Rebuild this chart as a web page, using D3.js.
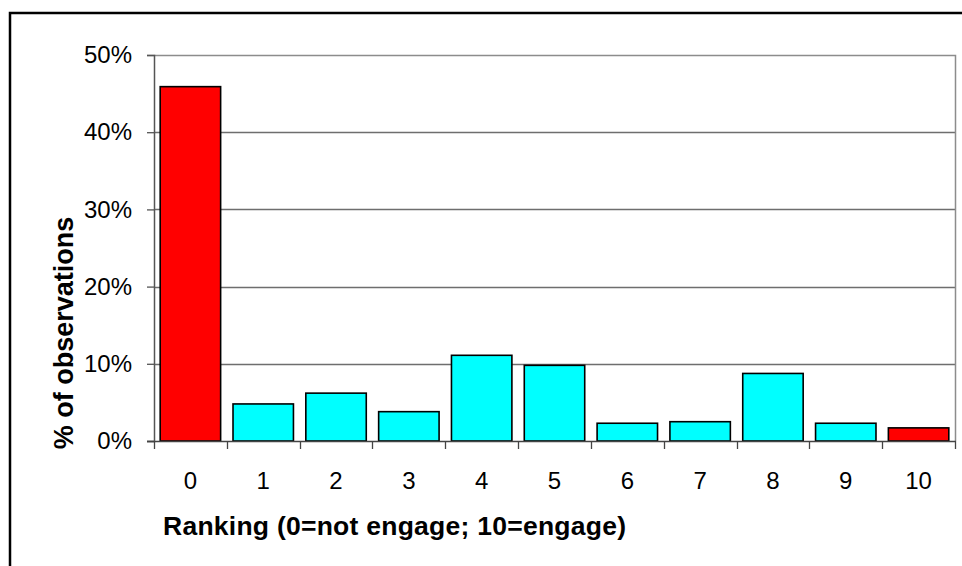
<!DOCTYPE html>
<html>
<head>
<meta charset="utf-8">
<script src="https://cdn.jsdelivr.net/npm/d3@7/dist/d3.min.js"></script>
<style>
  html, body { margin: 0; padding: 0; background: #fff; }
  svg { display: block; font-family: "Liberation Sans", Arial, sans-serif; }
</style>
</head>
<body>
<svg id="chart" width="962" height="566"></svg>
<script>
// Share of observations for each ranking score
const categories = ["0", "1", "2", "3", "4", "5", "6", "7", "8", "9", "10"];
const shares = [0.459, 0.048, 0.062, 0.038, 0.111, 0.098, 0.023, 0.025, 0.0875, 0.023, 0.017];
const highlighted = ["0", "10"];
const yTicks = [0, 0.1, 0.2, 0.3, 0.4, 0.5];

const svg = d3.select("#chart");

// Outer chart frame
svg.append("rect")
  .attr("x", 10).attr("y", 13)
  .attr("width", 970).attr("height", 570)
  .attr("fill", "none").attr("stroke", "#000").attr("stroke-width", 2.5);

const plot = { left: 154, right: 955, top: 55, bottom: 441 };

const x = d3.scaleBand()
  .domain(categories)
  .range([plot.left, plot.right])
  .paddingInner(0.17)
  .paddingOuter(0.085);

const xBand = d3.scaleBand().domain(categories).range([plot.left, plot.right]);

const y = d3.scaleLinear().domain([0, 0.5]).range([plot.bottom, plot.top]);

// Gridlines
svg.append("g")
  .selectAll("line")
  .data(yTicks.filter(t => t > 0 && t < 0.5))
  .join("line")
  .attr("x1", plot.left).attr("x2", plot.right)
  .attr("y1", d => Math.round(y(d)) + 0.5).attr("y2", d => Math.round(y(d)) + 0.5)
  .attr("stroke", "#6e6e6e").attr("stroke-width", 1.3);

// Plot area border (top and right)
svg.append("path")
  .attr("d", `M${plot.left},${plot.top + 0.5}H${plot.right + 0.5}V${plot.bottom}`)
  .attr("fill", "none").attr("stroke", "#8c8c8c").attr("stroke-width", 1.5);

// Bars
svg.append("g")
  .selectAll("rect")
  .data(categories.map((c, i) => ({ c, v: shares[i] })))
  .join("rect")
  .attr("x", d => x(d.c))
  .attr("y", d => y(d.v))
  .attr("width", x.bandwidth())
  .attr("height", d => y(0) - y(d.v))
  .attr("fill", d => highlighted.includes(d.c) ? "#ff0000" : "#00ffff")
  .attr("stroke", "#000").attr("stroke-width", 1.6);

// Y axis
const yAxis = d3.axisLeft(y)
  .tickValues(yTicks)
  .tickFormat(d3.format(".0%"))
  .tickSize(7)
  .tickPadding(15);
const gy = svg.append("g").attr("transform", `translate(${plot.left},0)`).call(yAxis);
gy.select(".domain").attr("stroke", "#555").attr("stroke-width", 1.5);
gy.selectAll(".tick line").attr("stroke", "#555").attr("stroke-width", 1.3);
gy.selectAll(".tick text")
  .attr("font-family", "Liberation Sans, Arial, sans-serif")
  .attr("font-size", 24).attr("fill", "#000");

// X axis baseline with ticks at category boundaries
const gx = svg.append("g");
gx.append("line")
  .attr("x1", plot.left - 7).attr("x2", plot.right + 1)
  .attr("y1", plot.bottom + 0.5).attr("y2", plot.bottom + 0.5)
  .attr("stroke", "#444").attr("stroke-width", 1.5);
const bounds = categories.map(c => xBand(c)).concat([plot.right]);
gx.selectAll("line.tk")
  .data(bounds)
  .join("line").attr("class", "tk")
  .attr("x1", d => Math.round(d) + 0.5).attr("x2", d => Math.round(d) + 0.5)
  .attr("y1", plot.bottom).attr("y2", plot.bottom + 8)
  .attr("stroke", "#444").attr("stroke-width", 1.3);
gx.selectAll("text")
  .data(categories)
  .join("text")
  .attr("x", d => xBand(d) + xBand.bandwidth() / 2)
  .attr("y", 489)
  .attr("text-anchor", "middle")
  .attr("font-size", 24)
  .text(d => d);

// Axis titles
svg.append("text")
  .attr("x", 163).attr("y", 535)
  .attr("font-size", 26.5).attr("font-weight", "bold")
  .attr("textLength", 463).attr("lengthAdjust", "spacing")
  .text("Ranking (0=not engage; 10=engage)");

svg.append("text")
  .attr("transform", "translate(73,333) rotate(-90)")
  .attr("text-anchor", "middle")
  .attr("font-size", 27).attr("font-weight", "bold")
  .text("% of observations");
</script>
</body>
</html>
